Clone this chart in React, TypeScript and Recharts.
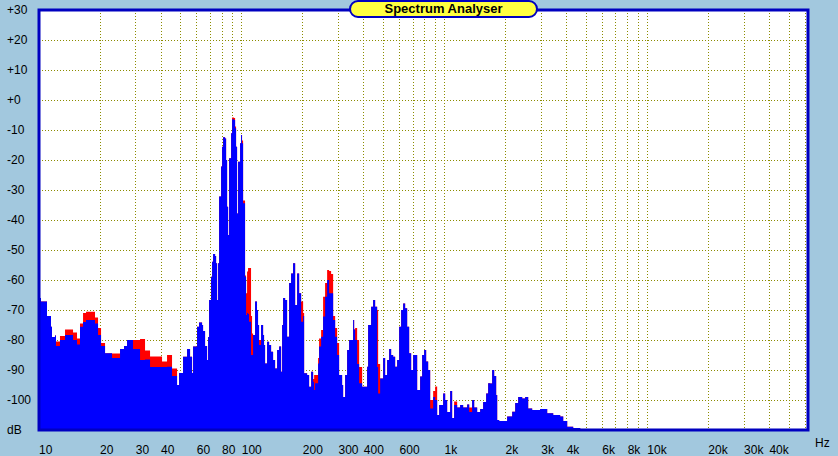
import React from 'react';
import { ComposedChart, Area, XAxis, YAxis, CartesianGrid, ReferenceArea, Label } from 'recharts';

// FFT bins (Hz) with current level and peak-hold level in dB
const FREQS = [
  10, 10.23, 10.95, 11.46, 11.59, 11.99, 12.13, 12.69, 13.44, 14.72,
  15.4, 15.93, 16.49, 17.06, 18.89, 19.55, 20.23, 21.17, 22.92, 25.1,
  26.27, 27.18, 29.09, 31.5, 33.34, 35.29, 40.44, 42.8, 45.3, 47.96,
  49.06, 51.34, 53.73, 55.59, 56.87, 57.52, 60.19, 61.57, 63.71, 64.44,
  65.92, 67.44, 68.21, 68.99, 70.58, 71.39, 72.21, 73.87, 74.71, 75.56,
  76.43, 77.3, 79.08, 79.98, 80.89, 82.75, 83.7, 84.65, 85.62, 86.6,
  88.59, 89.6, 91.66, 92.7, 93.73, 94.8, 95.89, 98.09, 99.21, 100.3,
  101.5, 103.8, 105, 106.2, 107.4, 108.6, 111.1, 112.4, 113.7, 116.3,
  118.9, 120.3, 121.7, 124.5, 127.4, 128.8, 130.3, 133.3, 136.4, 139.5,
  142.7, 146, 149.4, 152.8, 156.3, 158.1, 159.9, 163.6, 167.3, 171.2,
  175.1, 179.1, 183.3, 187.5, 191.8, 196.2, 200.7, 203, 210, 214.8,
  219.8, 224.8, 227.4, 229.9, 237.9, 240.6, 246.2, 251.8, 257.6, 263.6,
  269.6, 275.8, 282.2, 288.7, 295.3, 302, 312.5, 316.1, 323.4, 330.8,
  338.4, 354.1, 358.2, 362.3, 370.6, 379.1, 392.3, 415.1, 419.9, 434.5,
  444.4, 454.6, 465.1, 470.4, 481.2, 497.9, 509.3, 521, 533, 545.3,
  557.8, 570.6, 583.7, 597.1, 610.9, 624.9, 639.2, 654, 669, 684.4,
  700.1, 732.7, 758, 775.4, 793.3, 811.5, 830.2, 849.3, 878.7, 898.8,
  919.5, 940.6, 984.2, 1007, 1030, 1066, 1090, 1115, 1154, 1194,
  1235, 1293, 1323, 1368, 1400, 1448, 1499, 1550, 1604, 1641,
  1679, 1717, 1757, 1797, 1818, 1860, 1968, 2036, 2156, 2231,
  2308, 2415, 2499, 2585, 2705, 2962, 3208, 3435, 3718, 3848,
  4026, 4310, 4668, 62000,
];

const LEVEL_NOW = [
  -66, -67.2, -72, -75.6, -79, -78.5, -82, -80, -78.3, -80,
  -81.5, -75.6, -74, -73.3, -74.5, -78.3, -82, -84.4, -86, -83,
  -82, -80, -83, -86.7, -86.5, -89, -89, -88.9, -92, -95,
  -91, -85.6, -83, -85.6, -91, -82.2, -75.6, -74.2, -75, -77,
  -82, -86.7, -79, -66.7, -58.9, -53.9, -51.3, -52, -54.4, -66.7,
  -54.4, -32.2, -22.2, -15.6, -12.4, -12.8, -20, -35.6, -45, -19.4,
  -11.1, -6.4, -6.7, -9.4, -15.6, -37.8, -20.6, -14.4, -11.7, -14.4,
  -34.4, -58.9, -71.7, -71, -71.3, -73.9, -85, -85, -78.3, -67.2,
  -70, -75, -81.7, -75, -78.3, -81.7, -87.8, -80.6, -81.7, -83.9,
  -86.7, -89.5, -83.3, -82.2, -90.6, -75, -66, -66.7, -78.9, -61,
  -57.8, -54.4, -68.3, -57.8, -64.4, -73.9, -72, -91.1, -91.7, -95.6,
  -90.6, -93.9, -96.7, -94.4, -87.8, -82.2, -78.9, -72.2, -65.6, -60,
  -64.4, -64.4, -73.3, -78.9, -85, -91.7, -95, -99, -91.7, -83.3,
  -80, -73.3, -76.5, -80, -88, -94.4, -95.6, -88.9, -75, -68.9,
  -66.7, -68.9, -89, -97.8, -92.8, -86, -91.7, -86.7, -83, -85,
  -85.6, -88.9, -86.7, -75.6, -70, -67.8, -69.4, -75.6, -84.4, -90,
  -85, -96.7, -92.2, -85, -83.3, -87.2, -90, -102.8, -99, -100,
  -105, -101.7, -97.8, -100, -104, -97, -106, -101.7, -102.5, -101.7,
  -102.5, -101.5, -104, -100, -102.5, -104, -103, -100.7, -97.8, -94.4,
  -94.5, -90, -92, -98.3, -106.7, -107, -107, -105.5, -103.9, -101,
  -99, -99.5, -99, -102.8, -103.3, -103, -104.4, -105, -105.5, -107,
  -108.9, -109.3, -110, -110,
];

const LEVEL_PEAK = [
  -66, -67.2, -72, -75.6, -79, -78.5, -80.5, -78.7, -76.5, -77.5,
  -79.5, -74.5, -71, -70.6, -72.5, -76, -81, -84.4, -84.5, -83,
  -82, -80, -80, -79.7, -83.5, -85.5, -87.2, -85, -89.5, -95,
  -91, -85.6, -83, -85.6, -91, -82.2, -75.6, -74.2, -75, -77,
  -82, -86.7, -79, -66.7, -58.9, -53.9, -51.3, -52, -54.4, -66.7,
  -54.4, -32.2, -22.2, -15.6, -12.4, -12.8, -20, -35.6, -45, -19.4,
  -11.1, -5.8, -6, -8.8, -15.6, -37.8, -20.6, -14.4, -11.7, -13.5,
  -33.5, -58.5, -64.4, -57.2, -56, -56, -72, -77.8, -78.3, -67.2,
  -70, -75, -80, -75, -78.3, -81.7, -87.8, -80.6, -81.7, -83.9,
  -86.7, -89.5, -83.3, -82.2, -90.6, -75, -66, -66.7, -78.9, -61,
  -57.8, -54.4, -68.3, -57.8, -64.4, -67.2, -71, -91.1, -91.7, -95.6,
  -90.6, -93, -91.7, -91.7, -86, -79.5, -76.7, -65.6, -61, -56.7,
  -57, -58, -72, -76, -81, -91.7, -95, -99, -91.7, -83.3,
  -80, -73.3, -76.5, -76, -80, -89, -95.6, -88.9, -75, -68.9,
  -66.7, -68.9, -70, -88, -92.8, -86, -91.7, -86.7, -83, -85,
  -85.6, -88.9, -86.7, -75.6, -70, -67.8, -69.4, -75.6, -84.4, -90,
  -85, -96.7, -92.2, -85, -83.3, -87.2, -90, -100, -97, -95.5,
  -105, -101.7, -97.8, -100, -104, -97, -106, -100.5, -102.5, -101.7,
  -102.5, -101.5, -102.5, -100, -102.5, -104, -103, -100.7, -97.8, -94.4,
  -94.5, -90, -92, -98.3, -106.7, -107, -107, -105.5, -103.9, -101,
  -99, -99.5, -99, -102.8, -103.3, -103, -104.4, -105, -105.5, -107,
  -108.9, -109.3, -110, -110,
];

const GRID_FREQS = [
  10, 20, 30, 40, 50, 60, 70, 80, 90,
  100, 200, 300, 400, 500, 600, 700, 800, 900,
  1000, 2000, 3000, 4000, 5000, 6000, 7000, 8000, 9000,
  10000, 20000, 30000, 40000, 50000, 60000,
];
const LABEL_FREQS = [10, 20, 30, 40, 60, 80, 100, 200, 300, 400, 600, 1000, 2000, 3000, 4000, 6000, 8000, 10000, 20000, 30000, 40000];
const DB_TICKS = [-110, -100, -90, -80, -70, -60, -50, -40, -30, -20, -10, 0, 10, 20, 30];

const data = FREQS.map((f, i) => ({ f, now: LEVEL_NOW[i], peak: LEVEL_PEAK[i] }));

const FONT = '"Liberation Sans", Arial, sans-serif';

const fmtFreq = (v: number) => (v >= 1000 ? `${v / 1000}k` : `${v}`);
const fmtDb = (v: number) => (v === -110 ? 'dB' : v >= 0 ? `+${v}` : `${v}`);

function FreqTick({ x, y, payload }: any) {
  if (!LABEL_FREQS.includes(payload.value)) return null;
  return (
    <text x={x} y={y + 12} textAnchor="start" dominantBaseline="central" fontSize={12} fontFamily={FONT} fill="#000">
      {fmtFreq(payload.value)}
    </text>
  );
}

function DbTick({ y, payload }: any) {
  return (
    <text x={7} y={y} textAnchor="start" dominantBaseline="central" fontSize={12} fontFamily={FONT} fill="#000">
      {fmtDb(payload.value)}
    </text>
  );
}

export default function App() {
  return (
    <div style={{ position: 'absolute', left: 0, top: 0, width: 838, height: 456, background: '#A2C8DE', overflow: 'hidden' }}>
      <ComposedChart width={838} height={456} data={data} margin={{ top: 10, right: 30, bottom: 0, left: 0 }}>
        <CartesianGrid fill="#FFFFFF" stroke="#8C8C00" strokeDasharray="1 2" shapeRendering="crispEdges" />
        <XAxis
          dataKey="f"
          type="number"
          scale="log"
          domain={[10, 62000]}
          allowDataOverflow
          ticks={GRID_FREQS}
          interval={0}
          tick={<FreqTick />}
          tickLine={false}
          axisLine={false}
          height={26}
        >
          <Label value="Hz" position="right" offset={7} fontSize={12} fontFamily={FONT} fill="#000" />
        </XAxis>
        <YAxis
          type="number"
          domain={[-110, 30]}
          ticks={DB_TICKS}
          interval={0}
          tick={<DbTick />}
          tickLine={false}
          axisLine={false}
          width={39}
        />
        <Area dataKey="peak" type="stepAfter" fill="#FF0000" fillOpacity={1} stroke="none" baseValue={-110} isAnimationActive={false} />
        <Area dataKey="now" type="stepAfter" fill="#0000FF" fillOpacity={1} stroke="none" baseValue={-110} isAnimationActive={false} />
        <ReferenceArea x1={10} x2={62000} y1={-110} y2={30} fill="none" stroke="#0000C0" strokeWidth={3} />
      </ComposedChart>
      <div
        style={{
          position: 'absolute',
          left: 349,
          top: 0,
          width: 185,
          height: 14,
          borderRadius: 9,
          border: '2px solid #0000C0',
          background: '#FFFF40',
          fontFamily: FONT,
          fontWeight: 'bold',
          fontSize: 13,
          lineHeight: '14px',
          textAlign: 'center',
          color: '#000',
        }}
      >
        Spectrum Analyser
      </div>
    </div>
  );
}
